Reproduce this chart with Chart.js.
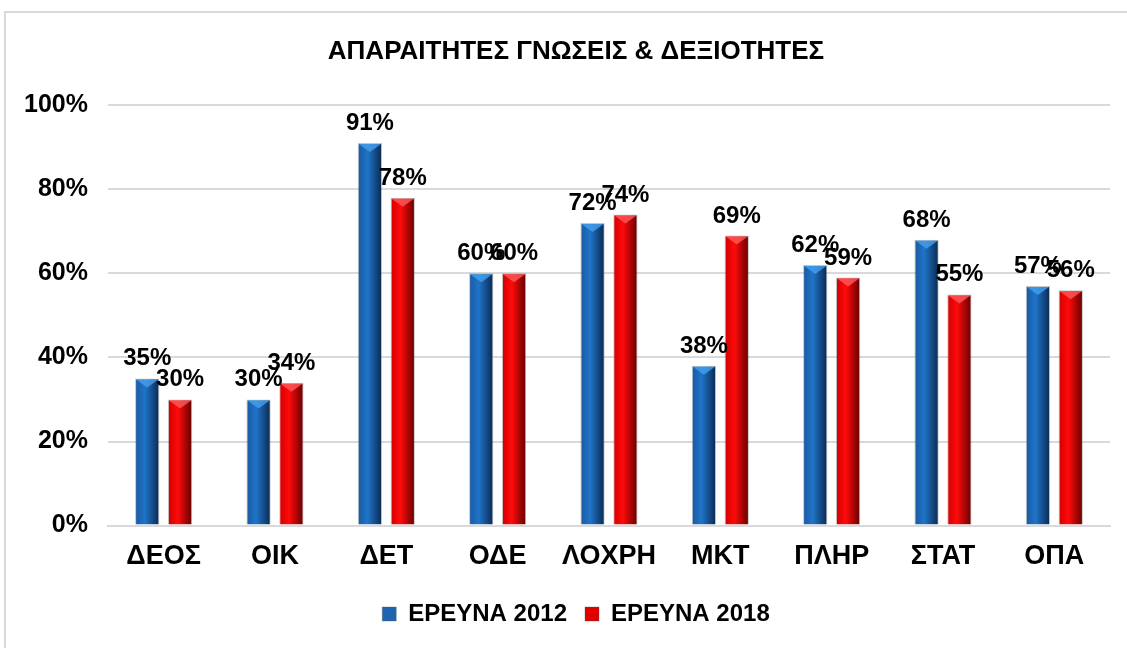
<!DOCTYPE html>
<html>
<head>
<meta charset="utf-8">
<script src="https://cdn.jsdelivr.net/npm/chart.js@4/dist/chart.umd.min.js"></script>
<style>
  body { margin: 0; background: #fff; }
  #frame { position: absolute; left: 4px; top: 11px; width: 1140px; height: 650px; border: 2px solid #d9d9d9; }
  #wrap { position: absolute; left: 0; top: 0; width: 1127px; height: 648px; }
</style>
</head>
<body>
<div id="frame"></div>
<div id="wrap"><canvas id="myBarChart"></canvas></div>
<script>
var categories = ["ΔΕΟΣ", "ΟΙΚ", "ΔΕΤ", "ΟΔΕ", "ΛΟΧΡΗ", "ΜΚΤ", "ΠΛΗΡ", "ΣΤΑΤ", "ΟΠΑ"];
var survey2012 = [35, 30, 91, 60, 72, 38, 62, 68, 57];
var survey2018 = [30, 34, 78, 60, 74, 69, 59, 55, 56];
var seriesNames = ["ΕΡΕΥΝΑ 2012", "ΕΡΕΥΝΑ 2018"];
var yTicks = [0, 20, 40, 60, 80, 100];

var FONT = "'Liberation Sans', Arial, sans-serif";

// colour stops for the shaded bars (left, middle, right)
var shades = [
  { base: "#1f64b0", stops: ["#1a58a0", "#1f74c8", "#0a2850"], tip: "#45a0ee" },
  { base: "#e00000", stops: ["#d00000", "#ff0a0a", "#620000"], tip: "#ff5a5a" }
];

var barStyle = {
  id: "barStyle",
  afterLayout: function(chart) {
    // title and legend sit a bit right of the canvas centre in the original
    [chart.titleBlock, chart.legend].forEach(function(b) {
      if (!b) return;
      b.left += 21;
      b.right += 21;
    });
    if (chart.legend) {
      chart.legend.top += 4;
      chart.legend.bottom += 4;
      chart.legend.adjustHitBoxes();
    }
  },
  beforeDatasetsDraw: function(chart) {
    var c = chart.ctx;
    chart.data.datasets.forEach(function(ds, di) {
      var meta = chart.getDatasetMeta(di);
      meta.data.forEach(function(el) {
        var l = el.x - el.width / 2, r = el.x + el.width / 2;
        var g = c.createLinearGradient(l, 0, r, 0);
        g.addColorStop(0, shades[di].stops[0]);
        g.addColorStop(0.4, shades[di].stops[1]);
        g.addColorStop(1, shades[di].stops[2]);
        el.options = Object.assign({}, el.options, { backgroundColor: g });
      });
    });
  },
  afterDatasetsDraw: function(chart) {
    var c = chart.ctx;
    c.save();
    chart.data.datasets.forEach(function(ds, di) {
      var meta = chart.getDatasetMeta(di);
      meta.data.forEach(function(el, i) {
        var l = el.x - el.width / 2, r = el.x + el.width / 2;
        // small bevel on top
        c.fillStyle = shades[di].tip;
        c.globalAlpha = 0.8;
        c.beginPath();
        c.moveTo(l + 1, el.y + 1);
        c.lineTo(r - 1, el.y + 1);
        c.lineTo(el.x, el.y + 9);
        c.closePath();
        c.fill();
        c.globalAlpha = 1;
        // value label
        c.fillStyle = "#000";
        c.font = "bold 24px " + FONT;
        c.textAlign = "center";
        c.textBaseline = "alphabetic";
        c.fillText(ds.data[i] + "%", el.x, el.y - 13);
      });
    });
    c.restore();
  }
};

var chartdata = {
  labels: categories,
  datasets: [
    {
      label: seriesNames[0],
      data: survey2012,
      backgroundColor: shades[0].base,
      borderColor: "rgba(90,90,90,0.35)",
      borderWidth: 1,
      categoryPercentage: 0.59,
      barPercentage: 0.74
    },
    {
      label: seriesNames[1],
      data: survey2018,
      backgroundColor: shades[1].base,
      borderColor: "rgba(90,90,90,0.35)",
      borderWidth: 1,
      categoryPercentage: 0.59,
      barPercentage: 0.74
    }
  ]
};

var options = {
  responsive: true,
  maintainAspectRatio: false,
  animation: false,
  layout: { padding: { left: 0, right: 17, top: 0, bottom: 16 } },
  plugins: {
    title: {
      display: true,
      text: "ΑΠΑΡΑΙΤΗΤΕΣ ΓΝΩΣΕΙΣ & ΔΕΞΙΟΤΗΤΕΣ",
      color: "#000",
      font: { family: FONT, size: 26, weight: "bold" },
      padding: { top: 36, bottom: 38 }
    },
    legend: {
      display: true,
      position: "bottom",
      labels: {
        color: "#000",
        boxWidth: 14,
        boxHeight: 14,
        padding: 18,
        font: { family: FONT, size: 24, weight: "bold" }
      }
    },
    tooltip: { enabled: false }
  },
  scales: {
    x: {
      grid: { display: false },
      border: { color: "#d9d9d9", width: 2 },
      ticks: {
        color: "#000",
        padding: 7,
        font: { family: FONT, size: 27, weight: "bold" }
      }
    },
    y: {
      min: 0,
      max: 100,
      afterFit: function(scale) { scale.width = 108; },
      afterBuildTicks: function(scale) {
        scale.ticks = yTicks.map(function(v) { return { value: v }; });
      },
      grid: { color: "#d9d9d9", lineWidth: 2, drawTicks: false },
      border: { display: false },
      ticks: {
        color: "#000",
        padding: 20,
        callback: function(v) { return v + "%"; },
        font: { family: FONT, size: 25, weight: "bold" }
      }
    }
  }
};

var ctx = document.getElementById("myBarChart");
var chart = new Chart(ctx, {
  type: "bar",
  data: chartdata,
  options: options,
  plugins: [barStyle]
});
</script>
</body>
</html>
